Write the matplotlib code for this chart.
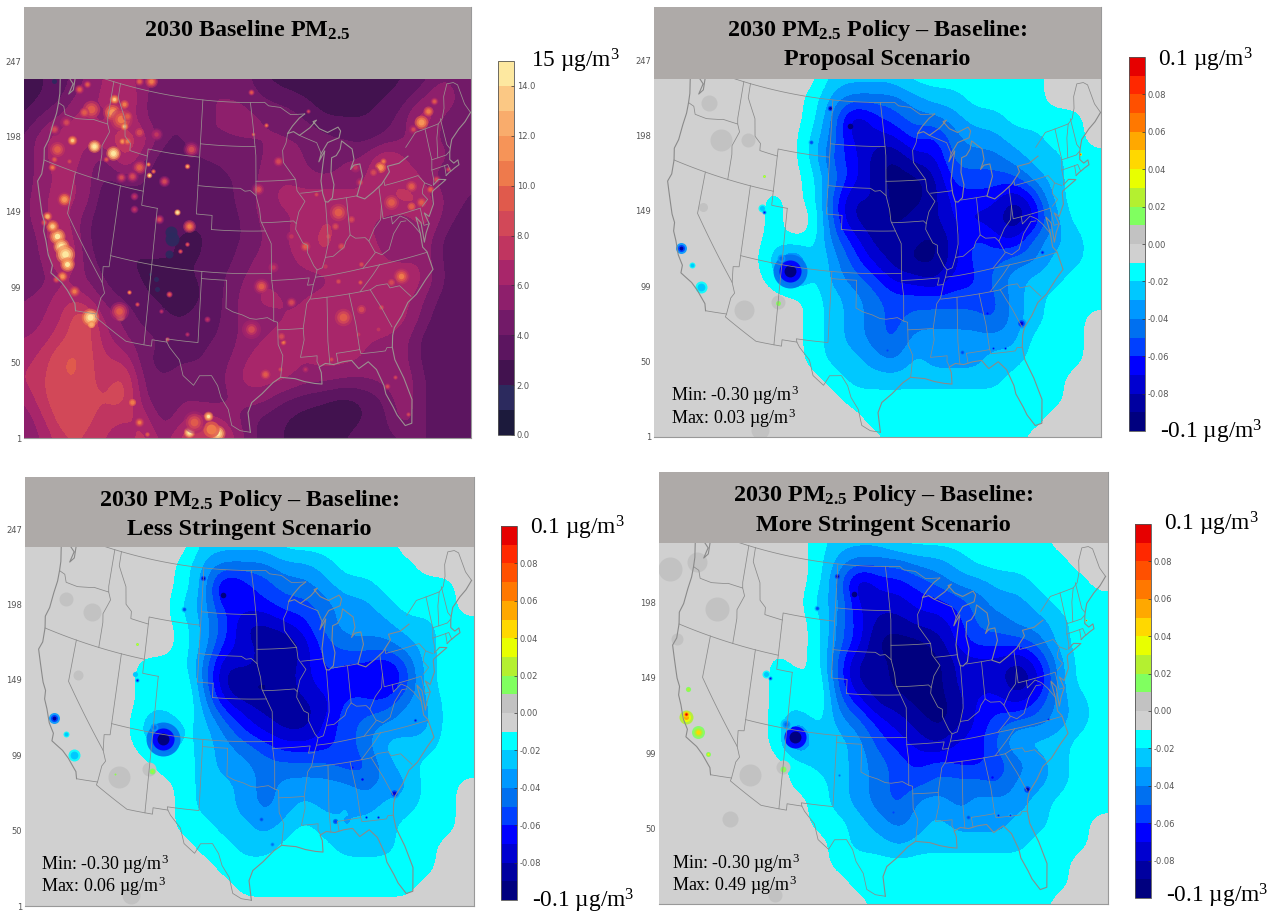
import numpy as np
import matplotlib
matplotlib.use("Agg")
import matplotlib.pyplot as plt
from matplotlib.colors import ListedColormap, BoundaryNorm
from matplotlib.cm import ScalarMappable

plt.rcParams['font.family'] = ['Liberation Serif', 'DejaVu Sans']
plt.rcParams['mathtext.fontset'] = 'custom'
plt.rcParams['mathtext.rm'] = 'Liberation Serif'
plt.rcParams['mathtext.it'] = 'Liberation Serif:italic'
plt.rcParams['mathtext.bf'] = 'Liberation Serif:bold'

# ---------- colour scales ----------
BASE_COLORS = ['#1c1a3c', '#2c2a5e', '#42124f', '#5c1560', '#721a68', '#8e1f6c', '#a8266a', '#c03560',
               '#d24858', '#e05a4c', '#ee7a4c', '#f69458', '#f9ac6c', '#fbc884', '#fde8a0']
BASE_BOUNDS = list(range(16))
BASE_TICKS = [0, 2, 4, 6, 8, 10, 12, 14]
POL_COLORS = ['#00007f', '#0000a0', '#0000d0', '#0000ff', '#0040ff', '#0070f0', '#0098ff', '#00c8ff', '#00ffff',
              '#d0d0d0', '#c2c2c2',
              '#80ff60', '#b4f030', '#e8ff00', '#ffd800', '#ffa800', '#ff7800', '#ff5000', '#ff2800', '#e60000']
POL_BOUNDS = [i / 100 for i in range(-10, 11)]
POL_TICKS = [-0.08, -0.06, -0.04, -0.02, 0.0, 0.02, 0.04, 0.06, 0.08]
GRID_TICKS = [247, 198, 149, 99, 50, 1]

# ---------- baseline PM2.5 (ug/m3) on a 20 px reading grid ----------
BASELINE = [
 [2.5,3,3.5,5,6,7,5,5,5,5,5,4.5,3,2.5,2.5,2.5,2.5,2.5,2.5,3,3.5,5,4],
 [2.5,3,4,6,6,8,5,4,4.5,5,5,5,4,3.5,3,2.5,2.5,2.5,3,3.5,5,7,4],
 [3,4.5,5.5,7,5,7,5,4,4,5,5,5.5,5,5,4,3,3,3,3.5,4.5,8,4,4],
 [4,6,7,6,7,8,7,4,4,5,5,5,5,5,5,4.5,4,3.5,4,5,5,5,4],
 [4,6,6.5,6,4,8,5,3,3.5,4,4,4.5,5,5.5,5,4,5,5,8,6,5.5,5.5,4],
 [4,6,6,6,3.5,4.5,4,3,3,3.5,4,4,5.5,6,5.5,5,5.5,6,7,6.5,6,4,4],
 [4.5,6,6.5,6,3,3,4,3,3,3.5,3.5,4.5,5.5,6.5,6.5,7,6.5,6,6.5,8,7,5,4],
 [4.5,6,6.5,4.5,3,3,3,4,3.5,3,3.5,4,5.5,5.5,6.5,7,7,6,6,5,7,4.5,3.5],
 [4,5.5,8,4,3.5,3,3,3.5,2.5,3,3.5,4,5,6,6.5,7.5,6.5,6,6,4.5,6,3.5,3.5],
 [4,5,8.5,4.5,3.5,3,3,3,3,3,3.5,4.5,5.5,5.5,6.5,7,6.5,6.5,6,5.5,6,3.5,3.5],
 [4,4.5,6,5,4,3,3,2.5,3,3,4,5,6,5.5,5.5,5.5,6.5,6.5,6.5,7.5,6,4,3],
 [5,5.5,7,6.5,4.5,4,3,3,2.5,3,4,5.5,6.5,6,6,6.5,6.5,7,6.5,6.5,5,3.5,3],
 [5,6,7,10,5.5,5,3.5,3,3,3.5,4,5.5,5.5,6,6,6.5,7,6.5,6.5,6.5,4.5,3,3],
 [6,6.5,8,9,6.5,5,4.5,4,3,4,4,5.5,6,6.5,6,6.5,6.5,6,6,5.5,3.5,3,3],
 [6.5,7.5,9.5,9,7,7,4,3.5,4,4,4.5,6,6.5,6.5,6,6.5,6.5,6,5.5,5.5,3.5,3,3],
 [7,8,9,9,7,9,4.5,4,4.5,4,5,6.5,6.5,6.5,5.5,5.5,5,5,5.5,6,4,3,3],
 [6,8,9,8.5,8,9,5,4,5,4.5,4.5,5.5,5.5,4,3.5,3,2.5,3,4,6,4,3,3],
 [5,7,9,8.5,7.5,7,7,4,6,6.5,6,4.5,3.5,3,2.5,2.5,2.5,3,3.5,6,4,3,3],
 [5,6,8,8,7,6,8,5,8,8.5,7.5,5,3.5,3,2.5,2.5,3,3.5,3.5,4,4,4,4],
]
SPOTS_NW = [
 (270,60,13,6),(265,100,11,12),(290,120,10,14),(300,75,10,7),(200,90,9,14),(180,100,9,8),(300,140,13,5),(310,110,9,8),
 (210,200,15,8),(267,222,15,9),(145,182,13,6),(120,360,11,9),(100,210,9,12),(85,265,10,5),(90,240,9,5),(295,185,11,5),
 (310,185,10,6),(345,265,9,9),(325,290,8,8),(290,295,8,7),(245,240,9,4),(375,287,14,3.5),(373,255,11,3),(387,275,10,3),
 (490,262,12,3.5),(458,398,15,4),(495,440,10,8),(490,495,9,3),(468,515,9,3),(405,420,8,6),(420,305,8,7),(500,210,8,10),
 (345,160,8,10),(395,165,7.5,8),(330,350,7.5,5),(330,390,7.5,5),(90,150,8,8),(125,130,8.5,8),(70,410,12,6),(100,470,14,10),
 (110,500,15,10),(122,525,15,12),(85,440,13,8),(60,430,9,5),(380,5,10,8),(345,5,9,6),(165,30,9,6),(190,15,9,5),(135,245,8,5),
]
SPOTS_NE = [
 (520,130,11,11),(540,95,10,8),(558,65,9,5),(495,150,8.5,6),(395,265,11,9),(405,245,10,5),(375,280,8.5,8),(430,370,9,12),
 (490,320,9,9),(490,380,9.5,9),(520,370,9,8),(440,390,8,8),(270,400,9,14),(260,440,8,8),(310,420,8.5,8),(335,310,8.5,6),
 (170,500,9,8),(55,137,10,3),(15,165,10,2.5),(10,40,9,4),(90,245,8,8),(30,330,8,9),(205,345,8,5),(130,470,7.5,8),
 (240,470,8,8),(545,330,9,6),(565,300,8,6),(600,270,8,4),(320,265,7.5,8),(280,500,8,8),(180,95,8,3),
]
SPOTS_SW = [
 (197,175,15,11),(200,195,12,8),(288,170,14,6),(285,155,9,12),(315,100,11,3),(340,135,9,3),(430,240,9,3),(435,105,9,4),
 (412,155,7.5,3),(130,15,14,9),(115,50,11,7),(150,95,10,7),(95,60,9,5),(290,345,8.5,10),(325,430,10,8),(345,490,10,6),
 (370,525,9,5),(495,520,15,7),(552,470,14,6),(580,522,15,10),(560,510,10,18),(510,490,9,14),(550,180,7.5,4),(490,225,7.5,3),
]
SPOTS_SE = [
 (460,50,10.5,10),(430,70,8.5,8),(335,70,9,4),(270,65,8,6),(40,80,9,10),(10,210,8.5,12),(285,175,9,14),(340,150,8.5,10),
 (130,130,8,8),(105,250,10,4),(100,230,8,8),(50,345,9.5,8),(95,330,8.5,5),(418,380,8,5),(440,355,8,4),(480,465,8,4),
 (400,145,8,6),(390,210,7.5,7),(330,225,7.5,7),(230,20,7.5,8),(75,25,7.5,8),(340,15,8,6),(170,330,7.5,5),(250,300,8,5),
]
LOWS_NW = [(440,460,1.5,12),(445,480,1.5,14),(435,525,1.5,8),(90,5,1.5,5)]
LOWS_SW = [(395,60,1.5,5),(400,90,1.5,5),(378,45,1.5,3)]

# ---------- policy minus baseline: band index 0-9, each step one -0.01 ug/m3 band ----------
PROPOSAL = [
 [0,0,0,0,0,0,0,0,0,2,2,2,2,1,1,1,1,1,1,1,0,0,0],
 [0,0,0,0,0,0,0,0,1,3,4,4,4,3,2,2,1,1,1,1,0,0,0],
 [0,0,0,0,0,0,0,0,1,4,8,6,5,4,4,3,2,2,1,1,1,1,0],
 [0,0,0,0,0,0,0,0,2,4,7,7,7,5,6,4,3,3,2,2,1,1,0],
 [0,0,0,0,0,0,0,0,2,5,6,8,9,7,7,4,4,4,3,2,2,1,1],
 [0,0,0,0,0,0,0,0,1,4,6,8,9,9,8,5,5,5,5,3,2,1,1],
 [0,0,0,0,0,0,1,0,1,5,8,7,9,9,8,6,6,6,8,6,2,1,1],
 [0,0,0,0,0,0,1,0,0,5,8,8,9,8,8,6,7,7,9,7,3,1,1],
 [0,0,0,0,0,0,1,0,1,4,6,8,8,8,9,7,5,6,7,4,3,2,1],
 [0,0,0,0,0,0,2,5,1,3,5,7,8,9,9,7,5,5,4,4,2,2,1],
 [0,0,0,0,0,0,1,3,1,3,4,5,7,7,8,6,6,4,3,2,2,1,1],
 [0,0,0,0,0,0,0,0,1,2,3,4,5,5,5,5,5,5,3,2,1,1,1],
 [0,0,0,0,0,0,0,0,1,2,3,4,5,4,4,4,4,5,3,2,1,1,0],
 [0,0,0,0,0,0,0,0,1,2,3,4,5,3,3,3,3,3,3,1,1,1,0],
 [0,0,0,0,0,0,0,0,1,2,2,3,4,2,3,3,3,2,2,1,1,1,0],
 [0,0,0,0,0,0,0,0,0,1,2,2,2,2,2,2,2,2,1,1,1,0,0],
 [0,0,0,0,0,0,0,0,0,0,1,1,1,1,1,1,1,1,1,1,1,0,0],
 [0,0,0,0,0,0,0,0,0,0,0,1,1,1,1,1,1,1,1,1,0,0,0],
 [0,0,0,0,0,0,0,0,0,0,0,0,1,1,1,1,1,1,1,0,0,0,0],
]
LESS_STRINGENT = [
 [0,0,0,0,0,0,0,0,0,2,2,2,2,1,1,1,1,1,1,0,0,0,0],
 [0,0,0,0,0,0,0,0,1,3,4,4,4,3,3,2,1,1,1,1,0,0,0],
 [0,0,0,0,0,0,0,0,1,3,8,6,5,4,4,3,2,2,1,1,1,1,0],
 [0,0,0,0,0,0,0,0,2,3,6,6,6,5,5,4,3,3,2,1,1,1,0],
 [0,0,0,0,0,0,0,0,1,3,5,8,8,7,6,4,3,3,3,2,2,1,1],
 [0,0,0,0,0,0,0,0,1,3,6,7,8,9,7,5,4,4,4,3,2,1,1],
 [0,0,0,0,0,0,1,1,1,4,8,7,8,8,7,5,6,6,7,5,2,1,1],
 [0,0,0,0,0,0,1,1,0,4,8,9,9,8,7,6,6,6,7,5,2,1,1],
 [0,0,0,0,0,0,1,1,0,3,6,7,8,8,8,7,5,5,5,3,3,1,1],
 [0,0,0,0,0,0,2,4,1,2,4,6,7,8,8,6,5,4,3,3,3,1,1],
 [0,0,0,0,0,0,1,2,1,2,3,4,5,6,6,6,5,4,2,2,2,1,1],
 [0,0,0,0,0,0,0,1,1,2,3,3,4,4,4,4,5,5,3,2,1,1,1],
 [0,0,0,0,0,0,0,0,1,2,2,3,4,3,3,3,3,4,3,3,1,1,0],
 [0,0,0,0,0,0,0,0,1,2,2,3,4,3,2,3,2,3,2,2,1,1,0],
 [0,0,0,0,0,0,0,0,1,1,2,2,3,2,1,2,3,2,2,1,1,1,0],
 [0,0,0,0,0,0,0,0,0,1,1,2,2,1,1,1,2,2,2,1,1,0,0],
 [0,0,0,0,0,0,0,0,0,0,1,1,1,1,1,1,1,1,1,1,1,0,0],
 [0,0,0,0,0,0,0,0,0,0,0,1,1,1,1,1,1,1,1,1,0,0,0],
 [0,0,0,0,0,0,0,0,0,0,0,0,0,0,0,0,0,0,0,0,0,0,0],
]
MORE_STRINGENT = [
 [0,0,0,0,0,0,0,0,1,2,2,2,1,1,1,1,1,1,1,1,0,0,0],
 [0,0,0,0,0,0,0,0,1,3,4,4,4,3,3,2,1,1,1,1,1,0,0],
 [0,0,0,0,0,0,0,0,1,4,8,6,6,5,4,3,3,2,2,1,1,1,0],
 [0,0,0,0,0,0,0,0,2,3,7,7,7,6,6,5,4,3,3,2,1,1,1],
 [0,0,0,0,0,0,0,0,1,4,6,8,8,7,7,6,4,4,3,3,2,1,1],
 [0,0,0,0,0,0,0,0,1,4,6,9,9,9,8,6,5,5,5,4,2,1,1],
 [0,0,0,0,0,0,1,0,1,5,8,8,9,9,9,7,7,7,8,6,3,1,1],
 [0,0,0,0,0,0,1,1,0,5,8,8,9,9,9,7,7,7,9,7,3,1,1],
 [0,0,0,0,0,0,1,1,0,4,6,8,8,9,9,8,6,6,7,5,3,2,1],
 [0,0,0,0,0,0,1,3,1,3,4,6,7,8,9,8,6,5,4,4,3,2,1],
 [0,0,0,0,0,0,1,5,1,2,3,5,6,7,8,6,6,4,2,2,2,1,1],
 [0,0,0,0,0,0,0,1,2,2,3,4,5,6,5,6,6,5,4,3,2,1,1],
 [0,0,0,0,0,0,0,1,1,2,3,4,5,5,4,4,4,5,3,3,2,1,1],
 [0,0,0,0,0,0,0,0,1,2,3,4,5,3,3,4,3,3,3,2,1,1,1],
 [0,0,0,0,0,0,0,0,1,1,2,3,4,3,2,3,3,3,2,2,1,1,0],
 [0,0,0,0,0,0,0,0,0,1,2,2,3,2,2,2,2,2,2,1,1,1,0],
 [0,0,0,0,0,0,0,0,0,1,1,1,1,1,1,1,1,1,1,1,1,0,0],
 [0,0,0,0,0,0,0,0,0,0,1,1,1,1,1,1,1,1,1,1,1,0,0],
 [0,0,0,0,0,0,0,0,0,0,0,1,1,1,1,1,1,1,1,1,0,0,0],
]
# spots (reading x, y, value, size)
SPOTS_PROPOSAL = [
 (465,325,-0.085,8),(515,378,-0.095,16),(368,812,-0.1,34),(345,775,-0.05,12),(100,745,-0.085,11),
 (128,795,-0.03,6),(150,860,-0.03,12),(300,625,-0.03,8),(305,635,-0.07,4),(320,670,-0.02,12),(420,425,-0.06,6),
 (935,970,-0.08,10),(985,755,-0.065,6),(790,1055,-0.06,6),(865,1045,-0.065,4),(895,1045,-0.065,4),(850,940,-0.07,6),
 (605,1050,-0.06,6),(340,908,0.025,5),(305,527,0.03,3),(1078,462,0.08,3),
]
PATCHES_PROPOSAL = [(255,930,20),(340,905,14),(200,420,22),(170,310,16),(265,420,14),(155,620,9),(295,1290,18)]
SPOTS_LESS = [
 (497,338,-0.085,8),(545,388,-0.095,16),(398,820,-0.1,34),(375,785,-0.05,12),(130,757,-0.085,11),
 (160,805,-0.03,6),(180,870,-0.03,12),(330,625,-0.03,8),(335,645,-0.07,4),(350,680,-0.02,12),(450,432,-0.06,6),
 (965,982,-0.08,10),(1015,765,-0.065,5),(820,1068,-0.06,8),(895,1055,-0.065,4),(925,1055,-0.065,4),(885,940,-0.07,7),(860,905,-0.07,6),
 (637,1060,-0.06,6),(665,1135,-0.05,6),(370,918,0.025,6),(335,537,0.03,3),(280,925,0.025,2),
]
PATCHES_LESS = [(290,935,22),(365,910,14),(225,440,18),(190,630,10),(320,1290,18),(160,400,14)]
SPOTS_MORE = [
 (482,332,-0.085,8),(525,385,-0.095,16),(380,815,-0.1,34),(358,775,-0.05,12),(318,638,-0.07,4),
 (310,625,-0.03,8),(330,670,-0.02,12),(435,428,-0.06,6),(948,972,-0.085,10),(1000,760,-0.065,5),(803,1055,-0.06,6),
 (878,1050,-0.065,4),(908,1048,-0.065,4),(862,935,-0.07,7),(620,1040,-0.06,6),(488,930,-0.05,4),
 (118,670,0.02,8),(113,755,0.05,14),(113,747,0.09,6),(142,800,0.04,13),
 (166,866,0.03,5),(352,912,0.025,6),(1093,465,0.08,2),
]
PATCHES_MORE = [(270,930,22),(350,905,14),(190,430,24),(140,290,20),(75,310,24),(90,520,12),(220,1060,16),(330,1290,14)]

# ---------- map lines, lon / lat ----------
COAST = [
 [(-122.75,49),(-122.5,48.5),(-122.4,47.5),(-122.9,47.1),(-122.6,47.9),(-123.2,48.15),(-124.7,48.4),(-124.1,46.9),(-124,46.25),(-123.95,45.5),
  (-124.1,44.6),(-124.2,43.5),(-124.5,42.8),(-124.2,42),(-124.1,41),(-124.4,40.4),(-123.8,39.5),(-123,38.3),(-122.5,37.8),(-122.4,37.2),
  (-121.9,36.6),(-121.3,35.7),(-120.6,35.1),(-120.6,34.55),(-119.2,34.15),(-118.4,33.75),(-117.3,33),(-117.1,32.53)],
 [(-97.15,25.95),(-97.4,27.3),(-97,28),(-95.9,28.6),(-94.7,29.35),(-93.85,29.7),(-92.3,29.55),(-91.3,29.3),(-90.2,29.1),(-89.4,29),(-89.4,29.8),
  (-89.6,30.2),(-88.9,30.4),(-88,30.25),(-87,30.35),(-86,30.35),(-85.3,29.7),(-84.2,30.05),(-83.4,29.4),(-82.8,28.2),(-82.7,27.6),(-82.1,26.6),
  (-81.8,26),(-81.1,25.15),(-80.4,25.2),(-80.05,26.8),(-80.6,28.4),(-81.3,29.8),(-81.4,30.7),(-81.2,31.5),(-80.9,32),(-79.9,32.7),(-79,33.5),
  (-77.9,33.9),(-76.6,34.7),(-75.55,35.25),(-75.9,36.6),(-76.3,37),(-76.3,38),(-76.5,39.2),(-76,38.7),(-76,37.3),(-75.6,37.9),(-75.05,38.45),
  (-75.4,39.3),(-74.9,38.95),(-74.1,39.7),(-74,40.45),(-73.9,40.6),(-72,41.05),(-72.9,41.25),(-73.65,41)],
 [(-71.86,41.32),(-71.4,41.45),(-71.1,41.5),(-70.65,41.6),(-70,41.7),(-70,42.05),(-70.6,41.95),(-71,42.3),(-70.8,42.8),(-70.6,43.1),(-70.2,43.6),
  (-69,44.1),(-68,44.4),(-67,44.85)],
 [(-76.2,43.55),(-77.5,43.25),(-79.05,43.27),(-78.9,42.85),(-80.1,42.15),(-81.3,41.75),(-82.5,41.4),(-83.45,41.7),(-83.15,42.1),(-82.45,43),
  (-82.6,43.9),(-83.4,43.9),(-83.9,43.65),(-83.3,44.3),(-83.4,45.05),(-84.7,45.75),(-85,45.2),(-85.6,44.8),(-86.25,44.7),(-86.5,43.7),(-86.25,42.8),
  (-86.6,41.9),(-87.2,41.65),(-87.55,41.7),(-87.8,42.3),(-87.9,43.2),(-87.5,44.3),(-87.1,45.25),(-88,44.55),(-87.6,45.1),(-86.6,45.8),(-85,46),
  (-84.7,46.45),(-85,46.75),(-86.5,46.5),(-87.6,46.85),(-88.4,47.4),(-87.9,47.47),(-88.9,47),(-90.4,46.55),(-91.2,46.85),(-92.05,46.75),(-91.3,47.25),
  (-90.3,47.75),(-89.5,48)],
]
BORDERS = [
 [(-117.1,32.53),(-114.72,32.72),(-114.8,32.5),(-111.07,31.33),(-108.2,31.33),(-108.2,31.78),(-106.53,31.78),(-106.2,31.45),(-105,30.65),(-104.5,29.6),
  (-103.3,29),(-102.7,29.7),(-101.4,29.77),(-100.7,29.1),(-100.3,28.3),(-99.5,27.5),(-99.1,26.4),(-98.2,26.05),(-97.15,25.95)],
 [(-67,44.85),(-67.5,45.6),(-67.8,47.07),(-68.3,47.35),(-69.2,47.45),(-70,46.7),(-70.3,45.9),(-70.85,45.25),(-71.5,45.01),(-74.7,45),(-75.5,44.6),(-76.3,44.2)],
 [(-89.5,48),(-91.5,48.05),(-92.9,48.6),(-94.6,48.75),(-95.15,49),(-122.75,49)],
 [(-124,46.25),(-123.2,46.15),(-122.8,45.65),(-121.2,45.65),(-119.3,45.93),(-118.98,46),(-116.92,46)],
 [(-117.03,49),(-117.04,46.4),(-116.92,46),(-116.5,45.5),(-117.2,44.4),(-117.03,43.8),(-117.03,42)],
 [(-124.2,42),(-111.05,42),(-111.05,41),(-109.05,41)],
 [(-111.05,42),(-111.05,45),(-104.05,45)],
 [(-116.05,49),(-116.05,48),(-114.7,46.7),(-114.35,45.5),(-113.5,45.1),(-113.45,44.6),(-111.05,44.5)],
 [(-104.05,49),(-104.05,41),(-102.05,41),(-102.05,40)],
 [(-104.05,43),(-98.5,43),(-97.9,42.8),(-97.2,42.85),(-96.45,42.5)],
 [(-104.05,45.94),(-96.56,45.94)],
 [(-97.2,49),(-96.85,47.5),(-96.56,45.94),(-96.45,45.3),(-96.45,42.5),(-96,41.5),(-95.85,40.7),(-95.3,40),(-94.6,39.1),(-94.62,36.5),(-94.43,35.4),
  (-94.48,33.64),(-94.04,33.55),(-94.04,31.99),(-93.55,31.2),(-93.85,29.7)],
 [(-96.45,43.5),(-91.22,43.5)],
 [(-102.05,40),(-95.3,40)],
 [(-109.05,41),(-109.05,31.33)],
 [(-114.05,37),(-94.62,37)],
 [(-103,37),(-103.05,32),(-106.62,32),(-106.53,31.78)],
 [(-103,36.5),(-100,36.5),(-100,34.55),(-99.2,34.3),(-98.1,34.1),(-97.2,33.85),(-96.5,33.8),(-95.2,33.9),(-94.48,33.64)],
 [(-114.05,42),(-114.05,36.2),(-114.75,36.1),(-114.6,35),(-114.15,34.3),(-114.5,33.9),(-114.72,32.72)],
 [(-120,42),(-120,39),(-114.6,35)],
 [(-91.22,43.5),(-91.1,42.7),(-90.15,41.9),(-91,41.2),(-91.4,40.4),(-91.5,40),(-90.7,39),(-90.15,38.8),(-90.2,38.3),(-89.5,37.3),(-89.15,37),(-89.4,36.5),
  (-89.7,36),(-90.1,35.1),(-90.6,34.7),(-91.15,33),(-91.1,32.2),(-91.6,31),(-89.75,31),(-89.8,30.6),(-89.55,30.2)],
 [(-91.22,43.5),(-92.75,44.75),(-92.8,45.6),(-92.3,46.1),(-92.05,46.7)],
 [(-90.65,42.5),(-87.8,42.5)],
 [(-90.4,46.55),(-88.1,45.9),(-87.6,45.1)],
 [(-95.77,40.58),(-91.73,40.6),(-91.4,40.4)],
 [(-94.62,36.5),(-90.15,36.5),(-90.4,36),(-89.7,36)],
 [(-94.04,33.02),(-91.15,33)],
 [(-90.1,35),(-83.1,35)],
 [(-89.4,36.5),(-88.05,36.5),(-83.68,36.6),(-81.68,36.59)],
 [(-89.15,37),(-88.5,37.1),(-88.05,37.8),(-87.1,37.8),(-86.3,38.1),(-85.7,38.3),(-85.4,38.7),(-84.8,39.1),(-84.2,38.8),(-83,38.7),(-82.6,38.4),(-81.75,39.2),
  (-80.85,39.7),(-80.52,40.64)],
 [(-87.53,41.7),(-87.53,39.35),(-87.6,38.7),(-88.05,37.8)],
 [(-84.8,41.7),(-84.8,39.1)],
 [(-86.8,41.76),(-83.45,41.73)],
 [(-80.52,42),(-80.52,39.72),(-75.79,39.72),(-75.7,38.46),(-75.05,38.45)],
 [(-79.76,42.27),(-79.76,42),(-75.35,42),(-74.7,41.35),(-75.1,40.95),(-75.2,40.65),(-74.7,40.15),(-75.5,39.8)],
 [(-79.48,39.72),(-79.48,39.2),(-78.4,39.6),(-77.7,39.3),(-77.05,38.8),(-76.3,38)],
 [(-81.97,37.54),(-81.25,37.25),(-80.3,37.5),(-79.5,38.5),(-78.4,39.2),(-77.8,39.15)],
 [(-82.6,38.4),(-82,37.5),(-83.68,36.6)],
 [(-81.68,36.59),(-75.9,36.55)],
 [(-81.68,36.59),(-82.6,36),(-84.3,35)],
 [(-83.1,35),(-82.3,35.2),(-81.05,35.15),(-80.8,34.82),(-79.67,34.8),(-78.55,33.86)],
 [(-83.1,35),(-82,33.5),(-81.15,32.1)],
 [(-85.6,35),(-85.15,32.8),(-85,31)],
 [(-87.6,31),(-85,31),(-84.9,30.7),(-82.2,30.55),(-82,30.75),(-81.45,30.7)],
 [(-88.2,35),(-88.45,31.9),(-88.4,30.3)],
 [(-87.6,31),(-87.5,30.3)],
 [(-73.35,45.01),(-73.3,43.6),(-73.25,42.75),(-73.5,42.05),(-73.5,41.3),(-73.65,41)],
 [(-71.5,45.01),(-72.05,44.1),(-72.45,42.73)],
 [(-73.25,42.75),(-71.3,42.7),(-70.8,42.87)],
 [(-71.08,45.3),(-70.97,43.4),(-70.7,43.07)],
 [(-73.5,42.05),(-71.38,42.02),(-71.2,41.5)],
 [(-71.8,42.02),(-71.86,41.32)],
 [(-74.7,41.35),(-73.9,41)],
]

W, H = 1281, 914
fig = plt.figure(figsize=(W / 100, H / 100), dpi=100, facecolor='white')


def project(lon, lat):
    n, F, r0 = 0.6304, 1.956, 1.2097
    rho = F / np.tan(np.radians(45 + np.asarray(lat) / 2)) ** n
    th = np.radians(n * (np.asarray(lon) + 97))
    return 227.8 + 600 * rho * np.sin(th), 152.5 - 818 * (r0 - rho * np.cos(th))


def dense(line):
    lo, la = [], []
    for (a, b), (c, d) in zip(line[:-1], line[1:]):
        k = max(2, int(abs(c - a) / 0.5) + 2)
        lo += list(np.linspace(a, c, k))
        la += list(np.linspace(b, d, k))
    return lo, la


def px_axes(l, t, r, b):
    return fig.add_axes([l / W, 1 - b / H, (r - l) / W, (b - t) / H])


RINGS_BASE = [(1.6, 0.72, 0.55), (1.25, 0.82, 0.7), (0.9, 0.92, 0.85), (0.55, 1.0, 1.0)]
RINGS_POL = [(1.0, 0.45, 0.9), (0.65, 0.7, 0.95), (0.35, 1.0, 1.0)]


def local(field, x, y):
    r = int(np.clip(round(y / 20), 0, field.shape[0] - 1))
    c = int(np.clip(round(x / 20), 0, field.shape[1] - 1))
    return field[r, c]


def dots(ax, x, y, size, val, cmap, norm, alpha=1.0):
    ax.scatter([x], [y], s=(size * 0.72) ** 2, c=[val], cmap=cmap, norm=norm, linewidths=0, alpha=alpha, zorder=2)


def panel(box, field, cmap, norm, title, yticks, line_col):
    left, right, top, mtop, bot = box
    ax = px_axes(left, top, right, bot)
    mh = bot - mtop
    ax.imshow(field, extent=(-10, 450, 370, -10), cmap=cmap, norm=norm, interpolation='bicubic',
              interpolation_stage='data', aspect='auto', zorder=1)
    for ln in BORDERS:
        ax.plot(*project(*dense(ln)), color=line_col, lw=0.55, zorder=3, solid_joinstyle='round')
    for ln in COAST:
        ax.plot(*project(*dense(ln)), color=line_col, lw=0.8, zorder=3, solid_joinstyle='round')
    ax.axhspan(-(mtop - top), 0, color='#aeaaa8', zorder=5, lw=0)
    ax.set_xlim(0, right - left)
    ax.set_ylim(mh, -(mtop - top))
    ax.set_xticks([])
    ax.set_yticks([mh - (g - 1) * 1.532 for g in yticks])
    ax.set_yticklabels([str(g) for g in yticks], fontsize=6, color='#555555', family='DejaVu Sans')
    ax.tick_params(axis='y', length=0, pad=2)
    for s in ['top', 'left']:
        ax.spines[s].set_visible(False)
    for s in ['bottom', 'right']:
        ax.spines[s].set_color('#999999')
        ax.spines[s].set_linewidth(0.8)
    cx = (left + right) / 2 / W
    if len(title) == 1:
        fig.text(cx, 1 - (top + 23) / H, title[0], ha='center', va='center', fontsize=17.4, weight='bold', zorder=10)
    else:
        fig.text(cx, 1 - (top + 23.5) / H, title[0], ha='center', va='center', fontsize=17.4, weight='bold', zorder=10)
        fig.text(cx, 1 - (top + 53) / H, title[1], ha='center', va='center', fontsize=17.4, weight='bold', zorder=10)
    return ax


def policy_marks(ax, field, spots, patches, x0, y0):
    for zx, zy, size in patches:
        dots(ax, (zx - x0) / 2.45, (zy - y0) / 3, size, 0.005, pol_cmap, pol_norm)
    for zx, zy, val, size in spots:
        x, y = (zx - x0) / 2.45, (zy - y0) / 3
        ground = local(field, x, y)
        for fs, fv, al in RINGS_POL:
            v = val * fv
            if val < 0 and (v > ground or v > -0.011):
                continue
            if val > 0 and v < 0.01:
                continue
            dots(ax, x, y, size * fs, v, pol_cmap, pol_norm, al)


def cbar(box, cmap, norm, ticks, fmt, top_txt, bot_txt, top_xy, bot_xy):
    cax = px_axes(*box)
    cb = fig.colorbar(ScalarMappable(norm=norm, cmap=cmap), cax=cax, ticks=ticks, spacing='proportional')
    cb.ax.set_yticklabels([fmt.format(t) for t in ticks], fontsize=6, color='#555555', family='DejaVu Sans')
    cb.ax.tick_params(length=2, width=0.5, pad=2, color='#333333', direction='in')
    cb.minorticks_off()
    cb.outline.set_linewidth(0.6)
    cb.outline.set_edgecolor('#555555')
    fig.text(top_xy[0] / W, 1 - (top_xy[1] + 3) / H, top_txt, fontsize=16.8, va='center', ha='left')
    if bot_txt:
        fig.text(bot_xy[0] / W, 1 - (bot_xy[1] + 3) / H, bot_txt, fontsize=16.8, va='center', ha='left')


base_cmap, base_norm = ListedColormap(BASE_COLORS), BoundaryNorm(BASE_BOUNDS, 15)
pol_cmap, pol_norm = ListedColormap(POL_COLORS), BoundaryNorm(POL_BOUNDS, 20)

TITLE_PM = r"PM$_{\mathbf{2.5}}$"
base_field = np.array(BASELINE)
ax1 = panel((24, 471, 7, 79, 438), base_field, base_cmap, base_norm,
            ["2030 Baseline " + TITLE_PM], GRID_TICKS, '#9a9090')
for spots, ox, oy in [(SPOTS_NW, 0, 0), (SPOTS_NE, 224, 0), (SPOTS_SW, 0, 180), (SPOTS_SE, 224, 180)]:
    for zx, zy, val, size in spots:
        x, y = ox + zx / 3, oy + zy / 3
        ground = local(base_field, x, y)
        for fs, fv, al in RINGS_BASE:
            if val * fv > ground:
                dots(ax1, x, y, size * fs, val * fv, base_cmap, base_norm, al)
for lows, ox, oy in [(LOWS_NW, 0, 0), (LOWS_SW, 0, 180)]:
    for zx, zy, val, size in lows:
        dots(ax1, ox + zx / 3, oy + zy / 3, size, val, base_cmap, base_norm, 0.9)

prop_field = -(np.array(PROPOSAL) + 0.5) / 100
less_field = -(np.array(LESS_STRINGENT) + 0.5) / 100
more_field = -(np.array(MORE_STRINGENT) + 0.5) / 100
ax2 = panel((654, 1101, 7, 79, 437), prop_field, pol_cmap, pol_norm,
            ["2030 " + TITLE_PM + " Policy \u2013 Baseline:", "Proposal Scenario"], GRID_TICKS, '#8a8a8a')
policy_marks(ax2, prop_field, SPOTS_PROPOSAL, PATCHES_PROPOSAL, 35, 237)
ax3 = panel((25, 474, 477, 547, 906), less_field, pol_cmap, pol_norm,
            ["2030 " + TITLE_PM + " Policy \u2013 Baseline:", "Less Stringent Scenario"], GRID_TICKS, '#8a8a8a')
policy_marks(ax3, less_field, SPOTS_LESS, PATCHES_LESS, 60, 245)
ax4 = panel((659, 1108, 472, 543, 904), more_field, pol_cmap, pol_norm,
            ["2030 " + TITLE_PM + " Policy \u2013 Baseline:", "More Stringent Scenario"], GRID_TICKS[1:-1], '#8a8a8a')
policy_marks(ax4, more_field, SPOTS_MORE, PATCHES_MORE, 47, 233)

UNIT = "\u00b5g/m$^{3}$"
cbar((498, 61, 514, 435), base_cmap, base_norm, BASE_TICKS, "{:.1f}", "15 " + UNIT, None, (531, 58), None)
cbar((1129, 57, 1145, 431), pol_cmap, pol_norm, POL_TICKS, "{:.2f}", "0.1 " + UNIT, "-0.1 " + UNIT, (1158, 57), (1160, 429))
cbar((501, 526, 517, 900), pol_cmap, pol_norm, POL_TICKS, "{:.2f}", "0.1 " + UNIT, "-0.1 " + UNIT, (530, 525), (532, 898))
cbar((1135, 524, 1151, 898), pol_cmap, pol_norm, POL_TICKS, "{:.2f}", "0.1 " + UNIT, "-0.1 " + UNIT, (1164, 521), (1166, 893))

for x, y, txt in [(671, 395, "Min: -0.30 "), (671, 418, "Max: 0.03 "), (41, 864, "Min: -0.30 "), (41, 886, "Max: 0.06 "),
                  (672, 863, "Min: -0.30 "), (672, 885, "Max: 0.49 ")]:
    fig.text(x / W, 1 - y / H, txt + UNIT, fontsize=13, va='center', ha='left', zorder=10)

fig.savefig('out.png', dpi=100)
